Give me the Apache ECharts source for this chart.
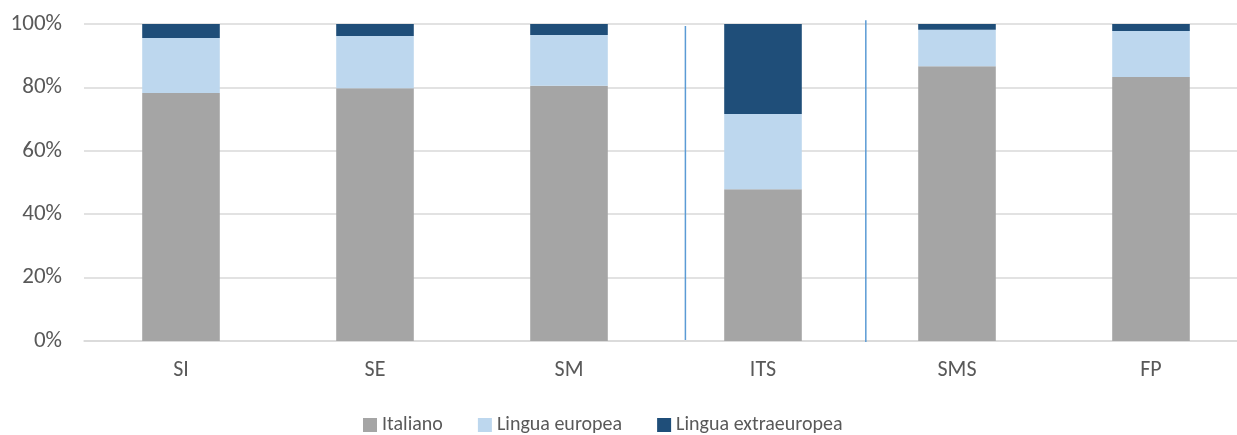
<html>
<head>
<meta charset="utf-8">
<script src="https://cdn.jsdelivr.net/npm/echarts@6/dist/echarts.min.js"></script>
</head>
<body style="margin:0">
	<div id="main" style="height: 435px; width: 1237px;"></div>

	<script type="text/javascript">
		// dati (percentuali cumulate lette, poi differenze)
		var categorie = [ 'SI', 'SE', 'SM', 'ITS', 'SMS', 'FP' ];
		var italiano = [ 78.2, 79.7, 80.5, 47.9, 86.7, 83.3 ];
		var europea = [ 17.4, 16.5, 16.0, 23.7, 11.5, 14.5 ];
		var extraeuropea = [ 4.4, 3.8, 3.5, 28.4, 1.8, 2.2 ];
		var nomiSerie = [ 'Italiano', 'Lingua europea', 'Lingua extraeuropea' ];
		var tickY = [ 0, 20, 40, 60, 80, 100 ];
		// linee di separazione (posizione in unita' di categoria)
		var separatori = [ [ [ 3.1, 0.3 ], [ 3.1, 99.4 ] ],
				[ [ 4.03, -0.3 ], [ 4.03, 101.2 ] ] ];

		var myChart = echarts.init(document.getElementById('main'));
		var testo = '#595959';
		var font = 'Carlito, "Liberation Sans", sans-serif';

		var option = {
			animation : false,
			textStyle : {
				fontFamily : font
			},
			legend : {
				data : nomiSerie,
				top : 410,
				left : 358,
				itemWidth : 14,
				itemHeight : 14,
				itemGap : 35,
				icon : 'rect',
				textStyle : {
					color : testo,
					fontSize : 20,
					fontFamily : font
				}
			},
			grid : {
				left : 84,
				width : 1164,
				top : 24,
				height : 317,
				outerBoundsMode : 'none'
			},
			xAxis : [ {
				type : 'category',
				data : categorie,
				axisTick : {
					show : false
				},
				axisLine : {
					lineStyle : {
						color : '#d9d9d9',
						width : 1.5
					}
				},
				axisLabel : {
					color : testo,
					fontSize : 22,
					margin : 18
				}
			}, {
				type : 'value',
				min : 0,
				max : 6,
				show : false
			} ],
			yAxis : {
				type : 'value',
				min : 0,
				max : 100,
				interval : 20,
				axisLine : {
					show : false
				},
				axisTick : {
					show : false
				},
				axisLabel : {
					color : testo,
					fontSize : 23,
					margin : 22,
					formatter : function(v) {
						return tickY.indexOf(v) >= 0 ? v + '%' : '';
					}
				},
				splitLine : {
					lineStyle : {
						color : '#d9d9d9',
						width : 1.5
					}
				}
			},
			series : [ {
				name : nomiSerie[0],
				type : 'bar',
				stack : 'tot',
				barWidth : '40%',
				itemStyle : {
					color : '#a5a5a5'
				},
				data : italiano
			}, {
				name : nomiSerie[1],
				type : 'bar',
				stack : 'tot',
				itemStyle : {
					color : '#bdd7ee'
				},
				data : europea
			}, {
				name : nomiSerie[2],
				type : 'bar',
				stack : 'tot',
				itemStyle : {
					color : '#1f4e79'
				},
				data : extraeuropea
			} ]
		};

		for (var i = 0; i < separatori.length; i++) {
			option.series.push({
				type : 'line',
				xAxisIndex : 1,
				symbol : 'none',
				clip : false,
				silent : true,
				lineStyle : {
					color : '#5b9bd5',
					width : 1.5
				},
				data : separatori[i]
			});
		}

		myChart.setOption(option);
	</script>
</body>
</html>
